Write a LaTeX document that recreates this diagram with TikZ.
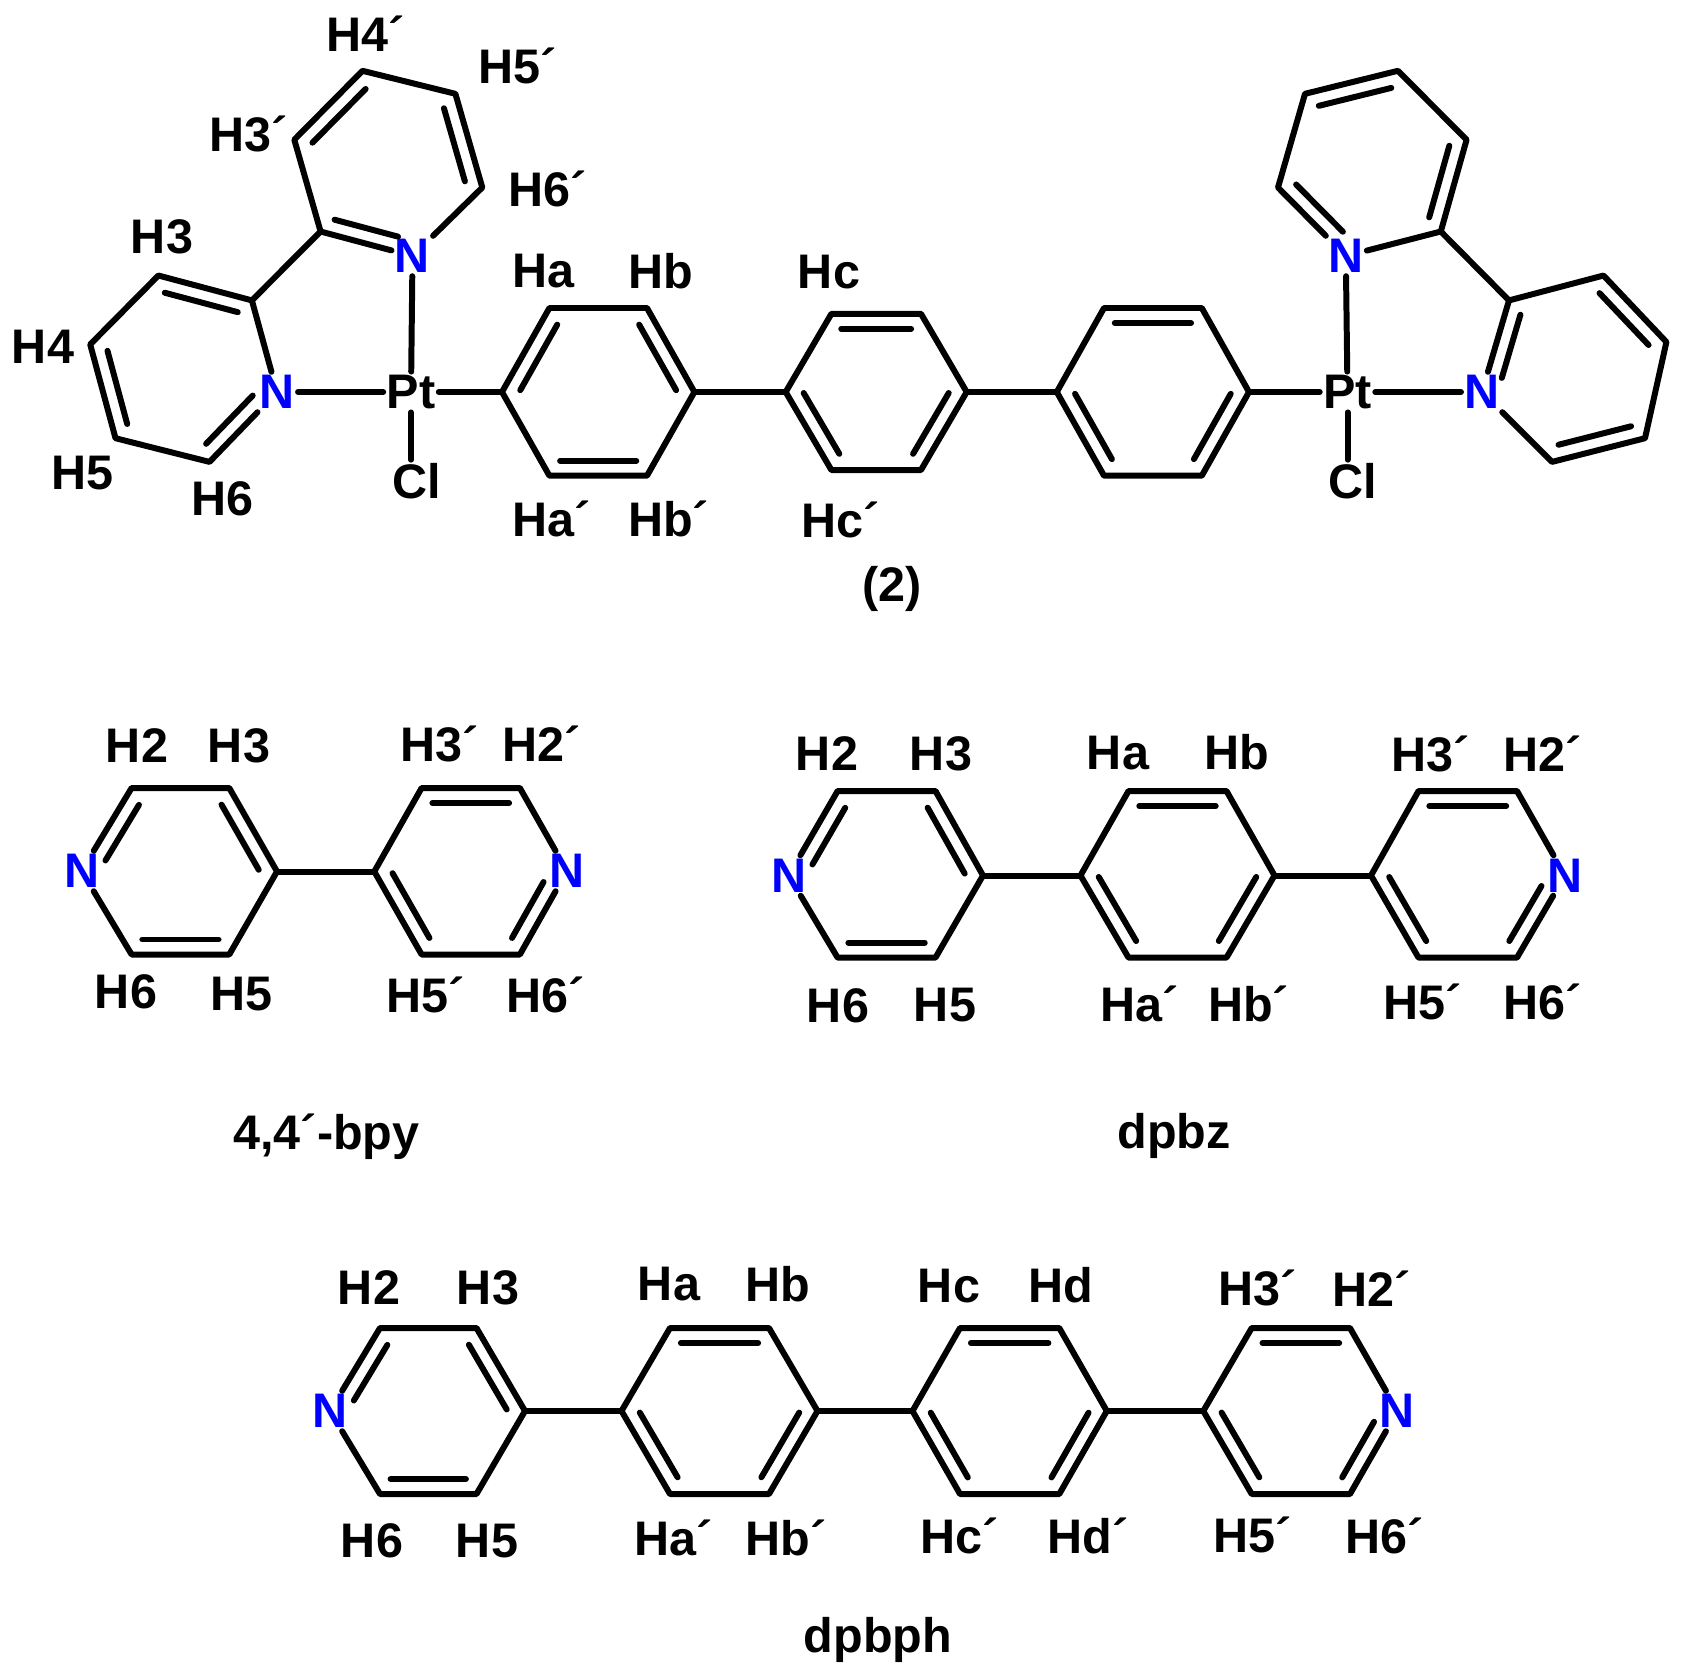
\documentclass[tikz,border=0pt]{standalone}
\usepackage{fontspec}
\setmainfont{Liberation Sans}
\usetikzlibrary{calc}
\definecolor{nblue}{RGB}{0,0,255}
\newcommand{\labfont}{\fontsize{13.8pt}{15pt}\bfseries\selectfont}
\tikzset{
	bond/.style={line width=1.7pt,line cap=round,line join=round},
	atom/.style={font=\labfont,inner sep=0.8pt},
	nitro/.style={atom,text=nblue},
	lab/.style={font=\labfont,inner sep=0pt}
}
% inner line of a double bond, ring centre on the right of a -> b
\newcommand{\dbl}[4]{\draw[bond] ($(#1)!#3!(#2)!0.15cm!-90:(#2)$) -- ($(#2)!#4!(#1)!0.15cm!90:(#1)$);}
\newcommand{\dbc}[2]{\dbl{#1}{#2}{0.11}{0.11}}
% para ring: left, top left, top right, right, bottom right, bottom left
\newcommand{\ringat}[7]{
	\coordinate (#1l) at (#2,#6);
	\coordinate (#1a) at (#3,#5);
	\coordinate (#1b) at (#4,#5);
	\coordinate (#1r) at (#4+#3-#2,#6);
	\coordinate (#1c) at (#4,#7);
	\coordinate (#1d) at (#3,#7);
}
\begin{document}
\begin{tikzpicture}[x=0.01cm,y=-0.01cm]
	\useasboundingbox (0,0) rectangle (1684,1675);

	% (2)
	\node[nitro] (n1) at (277,392) {N};
	\node[nitro] (n2) at (412.5,256) {N};
	\node[atom] (pt1) at (411,392) {Pt};
	\node[atom] (cl1) at (417,481) {Cl};
	\coordinate (c2) at (251.9,300.4);
	\coordinate (c3) at (158.4,275.5);
	\coordinate (c4) at (90.2,344.4);
	\coordinate (c5) at (115.5,438.2);
	\coordinate (c6) at (209.5,461.9);
	\coordinate (d2) at (320.6,231.5);
	\coordinate (d3) at (294.3,139.7);
	\coordinate (d4) at (362.5,70.8);
	\coordinate (d5) at (455.4,93.8);
	\coordinate (d6) at (482.3,187.5);
	\draw[bond] (n1) -- (c2) -- (c3) -- (c4) -- (c5) -- (c6) -- (n1);
	\draw[bond] (n2) -- (d2) -- (d3) -- (d4) -- (d5) -- (d6) -- (n2);
	\draw[bond] (c2) -- (d2);
	\dbc{c3}{c2} \dbc{c5}{c4} \dbl{n1}{c6}{0.2}{0.11}
	\dbc{d3}{d4} \dbc{d5}{d6} \dbl{n2}{d2}{0.2}{0.11}

	\ringat{p}{502}{549.4}{647}{308}{392}{475.7}
	\ringat{q}{785.7}{831.4}{921}{313.8}{392}{470}
	\ringat{s}{1056.8}{1104}{1201.8}{308}{392}{475.7}
	\foreach \ring in {p,q,s}
		\draw[bond] (\ring l) -- (\ring a) -- (\ring b) -- (\ring r) -- (\ring c) -- (\ring d) -- cycle;
	\draw[bond] (pr) -- (ql);
	\draw[bond] (qr) -- (sl);
	\dbc{pl}{pa} \dbc{pb}{pr} \dbc{pc}{pd}
	\dbc{qa}{qb} \dbc{qr}{qc} \dbc{qd}{ql}
	\dbc{sa}{sb} \dbc{sr}{sc} \dbc{sd}{sl}

	\node[nitro] (n3) at (1482,392) {N};
	\node[nitro] (n4) at (1345.8,256) {N};
	\node[atom] (pt2) at (1347.5,392) {Pt};
	\node[atom] (cl2) at (1353,481) {Cl};
	\coordinate (e2) at (1509,300.4);
	\coordinate (e3) at (1603.5,275.5);
	\coordinate (e4) at (1666.4,342);
	\coordinate (e5) at (1645,438.2);
	\coordinate (e6) at (1552,461.9);
	\coordinate (f2) at (1440.8,231.5);
	\coordinate (f3) at (1466.6,139.7);
	\coordinate (f4) at (1397.9,70.8);
	\coordinate (f5) at (1305,93.8);
	\coordinate (f6) at (1278,187.5);
	\draw[bond] (n3) -- (e2) -- (e3) -- (e4) -- (e5) -- (e6) -- (n3);
	\draw[bond] (n4) -- (f2) -- (f3) -- (f4) -- (f5) -- (f6) -- (n4);
	\draw[bond] (e2) -- (f2);
	\dbl{n3}{e2}{0.2}{0.11} \dbc{e3}{e4} \dbc{e5}{e6}
	\dbc{f3}{f2} \dbc{f5}{f4} \dbl{n4}{f6}{0.2}{0.11}

	\draw[bond] (n1) -- (pt1);
	\draw[bond] (n2) -- (pt1);
	\draw[bond] (pt1.south) -- (pt1.south |- cl1.north);
	\draw[bond] (pt1) -- (pl);
	\draw[bond] (sr) -- (pt2);
	\draw[bond] (pt2) -- (n3);
	\draw[bond] (pt2) -- (n4);
	\draw[bond] (pt2.south) -- (pt2.south |- cl2.north);

	\node[lab] (t1) at (43,346.5) {H4};
	\node[lab] (t2) at (162,237) {H3};
	\node[lab] (t3) at (82.4,473) {H5};
	\node[lab] (t4) at (222.3,498.7) {H6};
	\node[lab] (t5) at (248.7,134) {H3´};
	\node[lab] (t6) at (366,33.7) {H4´};
	\node[lab] (t7) at (517.7,66) {H5´};
	\node[lab] (t8) at (547.8,188.7) {H6´};
	\node[lab] (t9) at (543.7,271) {Ha};
	\node[lab] (t10) at (660.6,271) {Hb};
	\node[lab] (t11) at (829,272) {Hc};
	\node[lab] (t12) at (552,518.5) {Ha´};
	\node[lab] (t13) at (668.7,518.5) {Hb´};
	\node[lab] (t14) at (841,519.7) {Hc´};
	\node[lab,anchor=base] (t15) at (892,601) {(2)};

	% 4,4'-bpy
	\node[nitro] (u1) at (81.6,871) {N};
	\node[nitro] (u2) at (567,871) {N};
	\coordinate (ua) at (131.6,788);
	\coordinate (ub) at (229.3,788);
	\coordinate (ur) at (277,871.5);
	\coordinate (uc) at (229.3,954.5);
	\coordinate (ud) at (131.6,954.5);
	\coordinate (vl) at (374.3,871.5);
	\coordinate (va) at (421.6,788);
	\coordinate (vb) at (519.9,788);
	\coordinate (vc) at (519.9,954.5);
	\coordinate (vd) at (421.6,954.5);
	\draw[bond] (u1) -- (ua) -- (ub) -- (ur) -- (uc) -- (ud) -- (u1);
	\draw[bond] (u2) -- (vb) -- (va) -- (vl) -- (vd) -- (vc) -- (u2);
	\draw[bond] (ur) -- (vl);
	\dbl{u1}{ua}{0.22}{0.11} \dbc{ub}{ur} \dbc{uc}{ud}
	\dbc{va}{vb} \dbl{u2}{vc}{0.22}{0.11} \dbc{vd}{vl}
	\node[lab] (b1) at (137,746) {H2};
	\node[lab] (b2) at (239,746) {H3};
	\node[lab] (b3) at (440,744) {H3´};
	\node[lab] (b4) at (542,744) {H2´};
	\node[lab] (b5) at (126,992) {H6};
	\node[lab] (b6) at (241.7,994) {H5};
	\node[lab] (b7) at (426,995) {H5´};
	\node[lab] (b8) at (546,995) {H6´};
	\node[lab,anchor=base] (b9) at (326.5,1149) {4,4´-bpy};

	% dpbz
	\node[nitro] (w1) at (788.7,875.5) {N};
	\node[nitro] (w2) at (1565,875.5) {N};
	\coordinate (wa) at (837.6,791);
	\coordinate (wb) at (935.5,791);
	\coordinate (wr) at (983,875.5);
	\coordinate (wc) at (935.5,957.6);
	\coordinate (wd) at (837.6,957.6);
	\ringat{x}{1080.5}{1128.5}{1226.5}{791}{875.5}{957.6}
	\coordinate (yl) at (1371,875.5);
	\coordinate (ya) at (1418.5,791);
	\coordinate (yb) at (1517,791);
	\coordinate (yc) at (1517,957.6);
	\coordinate (yd) at (1418.5,957.6);
	\draw[bond] (w1) -- (wa) -- (wb) -- (wr) -- (wc) -- (wd) -- (w1);
	\draw[bond] (xl) -- (xa) -- (xb) -- (xr) -- (xc) -- (xd) -- cycle;
	\draw[bond] (w2) -- (yb) -- (ya) -- (yl) -- (yd) -- (yc) -- (w2);
	\draw[bond] (wr) -- (xl);
	\draw[bond] (xr) -- (yl);
	\dbl{w1}{wa}{0.22}{0.11} \dbc{wb}{wr} \dbc{wc}{wd}
	\dbc{xa}{xb} \dbc{xr}{xc} \dbc{xd}{xl}
	\dbc{ya}{yb} \dbl{w2}{yc}{0.22}{0.11} \dbc{yd}{yl}
	\node[lab] (z1) at (827,753.5) {H2};
	\node[lab] (z2) at (941,753.5) {H3};
	\node[lab] (z3) at (1118,753) {Ha};
	\node[lab] (z4) at (1237,752) {Hb};
	\node[lab] (z5) at (1430.8,753.5) {H3´};
	\node[lab] (z6) at (1543,754) {H2´};
	\node[lab] (z7) at (838,1006) {H6};
	\node[lab] (z8) at (945,1005) {H5};
	\node[lab] (z9) at (1140,1003.5) {Ha´};
	\node[lab] (z10) at (1248.5,1003.5) {Hb´};
	\node[lab] (z11) at (1423,1002) {H5´};
	\node[lab] (z12) at (1543,1002) {H6´};
	\node[lab,anchor=base] (z13) at (1174,1148) {dpbz};

	% dpbph
	\node[nitro] (m1) at (330,1411) {N};
	\node[nitro] (m2) at (1397.5,1411) {N};
	\coordinate (ma) at (380,1328);
	\coordinate (mb) at (476.5,1328);
	\coordinate (mr) at (525,1411);
	\coordinate (mc) at (476.5,1494);
	\coordinate (md) at (380,1494);
	\ringat{g}{621.5}{670}{769}{1328}{1411}{1494}
	\ringat{h}{912.5}{960}{1059.3}{1328}{1411}{1494}
	\coordinate (kl) at (1203.3,1411);
	\coordinate (ka) at (1251.7,1328);
	\coordinate (kb) at (1350,1328);
	\coordinate (kc) at (1350,1494);
	\coordinate (kd) at (1251.7,1494);
	\draw[bond] (m1) -- (ma) -- (mb) -- (mr) -- (mc) -- (md) -- (m1);
	\draw[bond] (gl) -- (ga) -- (gb) -- (gr) -- (gc) -- (gd) -- cycle;
	\draw[bond] (hl) -- (ha) -- (hb) -- (hr) -- (hc) -- (hd) -- cycle;
	\draw[bond] (m2) -- (kb) -- (ka) -- (kl) -- (kd) -- (kc) -- (m2);
	\draw[bond] (mr) -- (gl);
	\draw[bond] (gr) -- (hl);
	\draw[bond] (hr) -- (kl);
	\dbl{m1}{ma}{0.22}{0.11} \dbc{mb}{mr} \dbc{mc}{md}
	\dbc{ga}{gb} \dbc{gr}{gc} \dbc{gd}{gl}
	\dbc{ha}{hb} \dbc{hr}{hc} \dbc{hd}{hl}
	\dbc{ka}{kb} \dbl{m2}{kc}{0.22}{0.11} \dbc{kd}{kl}
	\node[lab] (r1) at (369,1288) {H2};
	\node[lab] (r2) at (488,1288) {H3};
	\node[lab] (r3) at (669,1284) {Ha};
	\node[lab] (r4) at (778,1284) {Hb};
	\node[lab] (r5) at (949,1286) {Hc};
	\node[lab] (r6) at (1061,1285) {Hd};
	\node[lab] (r7) at (1257.5,1287.5) {H3´};
	\node[lab] (r8) at (1371.7,1289) {H2´};
	\node[lab] (r9) at (372,1541) {H6};
	\node[lab] (r10) at (487,1541) {H5};
	\node[lab] (r11) at (674,1538) {Ha´};
	\node[lab] (r12) at (786,1538) {Hb´};
	\node[lab] (r13) at (960,1535.5) {Hc´};
	\node[lab] (r14) at (1088,1535.5) {Hd´};
	\node[lab] (r15) at (1253,1534.5) {H5´};
	\node[lab] (r16) at (1385,1535.5) {H6´};
	\node[lab,anchor=base] (r17) at (878,1652) {dpbph};
\end{tikzpicture}
\end{document}
